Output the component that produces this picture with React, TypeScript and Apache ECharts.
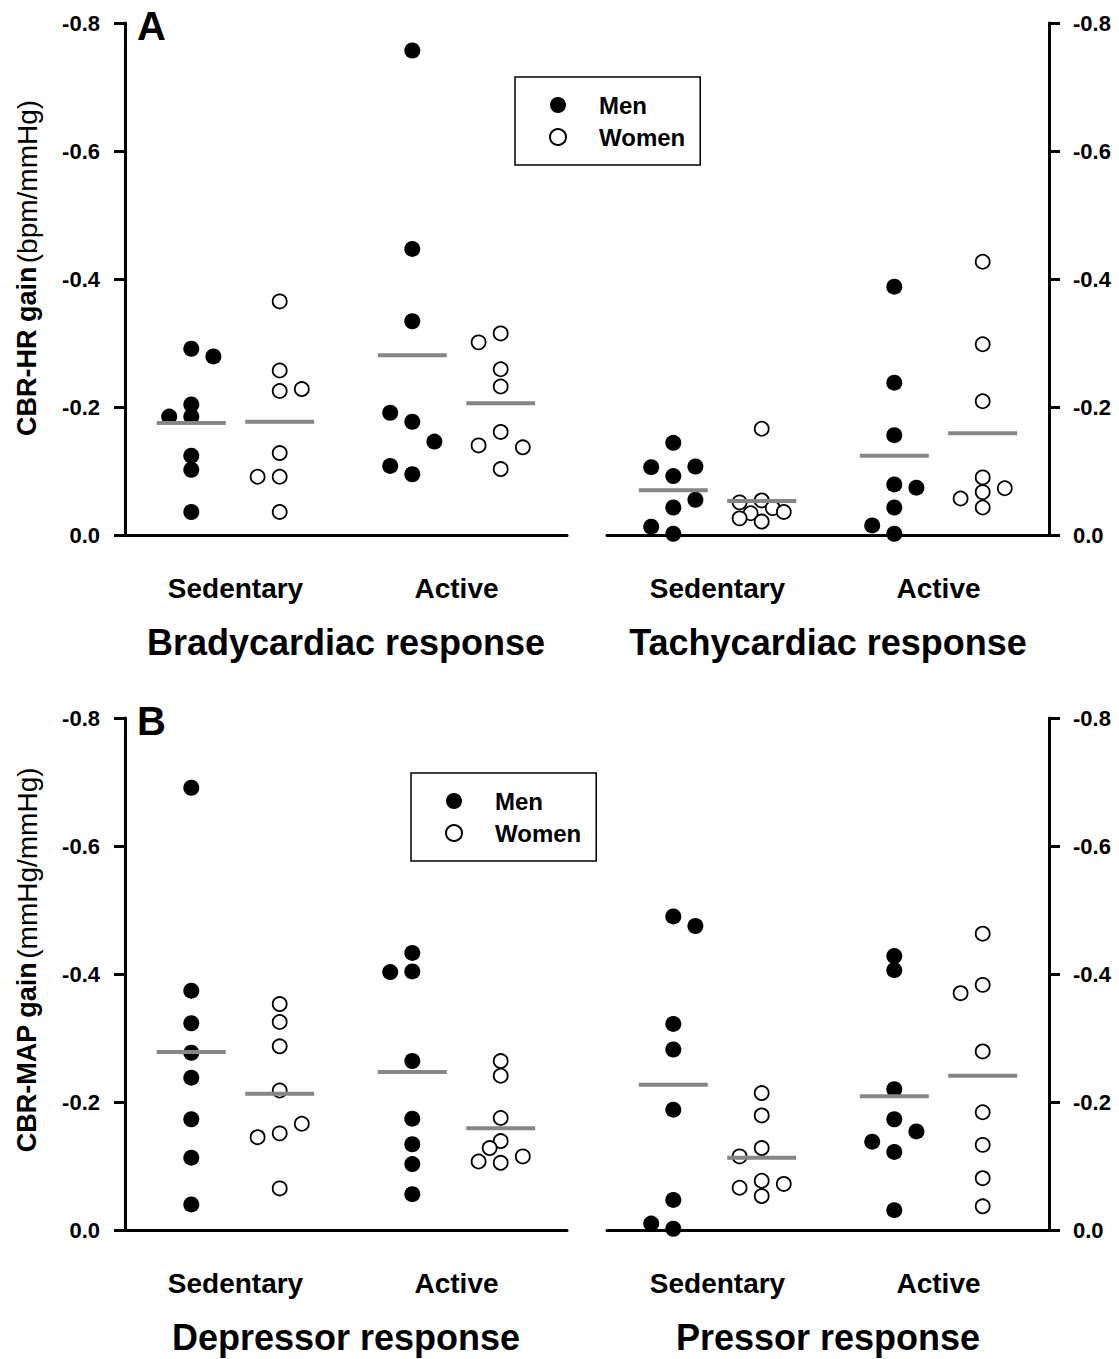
import React, { useEffect, useRef } from "react";
import * as echarts from "echarts";

// ---------- text ----------
const groupLabels = ["Sedentary", "Active"];
const panelTitles = [
  "Bradycardiac response",
  "Tachycardiac response",
  "Depressor response",
  "Pressor response",
];
const panelLetters = ["A", "B"];
const yTitleBold = ["CBR-HR gain", "CBR-MAP gain"];
const yTitleUnit = ["(bpm/mmHg)", "(mmHg/mmHg)"];
const seriesNames = ["Men", "Women"];
const yTicks = [-0.8, -0.6, -0.4, -0.2, 0];

// group centres on the x value axis: sedentary men, sedentary women, active men, active women
const groupX = [1, 2, 3.5, 4.5];
const labelX = [1.5, 4];

// ---------- Panel A, bradycardiac ----------
const bradySedMen = [-0.291, -0.279, -0.204, -0.185, -0.185, -0.124, -0.102, -0.036];
const bradySedMenJit = [0, 1, 0, -1, 0, 0, 0, 0];
const bradySedWomen = [-0.365, -0.257, -0.225, -0.228, -0.128, -0.091, -0.091, -0.036];
const bradySedWomenJit = [0, 0, 0, 1, 0, -1, 0, 0];
const bradyActMen = [-0.757, -0.447, -0.334, -0.191, -0.177, -0.146, -0.108, -0.095];
const bradyActMenJit = [0, 0, 0, -1, 0, 1, -1, 0];
const bradyActWomen = [-0.315, -0.301, -0.259, -0.232, -0.161, -0.14, -0.137, -0.103];
const bradyActWomenJit = [0, -1, 0, 0, 0, -1, 1, 0];
const bradyMeans = [-0.175, -0.177, -0.281, -0.206];

// ---------- Panel A, tachycardiac ----------
const tachySedMen = [-0.144, -0.106, -0.107, -0.092, -0.055, -0.043, -0.013, -0.002];
const tachySedMenJit = [0, -1, 1, 0, 1, 0, -1, 0];
const tachySedWomen = [-0.166, -0.054, -0.051, -0.042, -0.036, -0.034, -0.026, -0.021];
const tachySedWomenJit = [0, 0, -1, 0.5, 1, -0.5, -1, 0];
const tachyActMen = [-0.388, -0.238, -0.156, -0.079, -0.074, -0.043, -0.015, -0.002];
const tachyActMenJit = [0, 0, 0, 0, 1, 0, -1, 0];
const tachyActWomen = [-0.427, -0.298, -0.209, -0.09, -0.073, -0.067, -0.057, -0.043];
const tachyActWomenJit = [0, 0, 0, 0, 1, 0, -1, 0];
const tachyMeans = [-0.07, -0.053, -0.124, -0.159];

// ---------- Panel B, depressor ----------
const deprSedMen = [-0.691, -0.374, -0.323, -0.277, -0.238, -0.173, -0.113, -0.04];
const deprSedMenJit = [0, 0, 0, 0, 0, 0, 0, 0];
const deprSedWomen = [-0.353, -0.325, -0.287, -0.218, -0.166, -0.151, -0.145, -0.065];
const deprSedWomenJit = [0, 0, 0, 0, 1, 0, -1, 0];
const deprActMen = [-0.433, -0.403, -0.404, -0.264, -0.174, -0.134, -0.103, -0.056];
const deprActMenJit = [0, -1, 0, 0, 0, 0, 0, 0];
const deprActWomen = [-0.264, -0.241, -0.175, -0.139, -0.128, -0.115, -0.107, -0.105];
const deprActWomenJit = [0, 0, 0, 0, -0.5, 1, -1, 0];
const deprMeans = [-0.278, -0.213, -0.247, -0.159];

// ---------- Panel B, pressor ----------
const pressSedMen = [-0.49, -0.475, -0.322, -0.282, -0.188, -0.047, -0.01, -0.002];
const pressSedMenJit = [0, 1, 0, 0, 0, 0, -1, 0];
const pressSedWomen = [-0.214, -0.179, -0.128, -0.115, -0.077, -0.072, -0.066, -0.053];
const pressSedWomenJit = [0, 0, 0, -1, 0, 1, -1, 0];
const pressActMen = [-0.428, -0.406, -0.22, -0.173, -0.154, -0.138, -0.122, -0.031];
const pressActMenJit = [0, 0, 0, 0, 1, -1, 0, 0];
const pressActWomen = [-0.463, -0.383, -0.37, -0.279, -0.184, -0.133, -0.081, -0.037];
const pressActWomenJit = [0, 0, -1, 0, 0, 0, 0, 0];
const pressMeans = [-0.227, -0.113, -0.209, -0.241];

const FONT = "'Liberation Sans', Arial, sans-serif";
const JIT_STEP = 0.25;
const MEAN_WIDTH = 0.78;

type Group = [number[], number[]];
const subpanels: { groups: Group[]; means: number[] }[] = [
  {
    groups: [
      [bradySedMen, bradySedMenJit],
      [bradySedWomen, bradySedWomenJit],
      [bradyActMen, bradyActMenJit],
      [bradyActWomen, bradyActWomenJit],
    ],
    means: bradyMeans,
  },
  {
    groups: [
      [tachySedMen, tachySedMenJit],
      [tachySedWomen, tachySedWomenJit],
      [tachyActMen, tachyActMenJit],
      [tachyActWomen, tachyActWomenJit],
    ],
    means: tachyMeans,
  },
  {
    groups: [
      [deprSedMen, deprSedMenJit],
      [deprSedWomen, deprSedWomenJit],
      [deprActMen, deprActMenJit],
      [deprActWomen, deprActWomenJit],
    ],
    means: deprMeans,
  },
  {
    groups: [
      [pressSedMen, pressSedMenJit],
      [pressSedWomen, pressSedWomenJit],
      [pressActMen, pressActMenJit],
      [pressActWomen, pressActWomenJit],
    ],
    means: pressMeans,
  },
];

function points(gi: number, g: Group) {
  return g[0].map((v, k) => [groupX[gi] + g[1][k] * JIT_STEP, v]);
}

function buildOption() {
  const grids = [
    { left: 125, top: 23, width: 442, height: 512 },
    { left: 607, top: 23, width: 442, height: 512 },
    { left: 125, top: 718, width: 442, height: 512 },
    { left: 607, top: 718, width: 442, height: 512 },
  ];
  const fmt = (v: number) => (Math.abs(v) < 1e-9 ? "0.0" : v.toFixed(1));

  const xAxis = grids.map((_, i) => ({
    type: "value",
    gridIndex: i,
    min: 0.25,
    max: 5.25,
    axisLine: { show: true, onZero: false, lineStyle: { color: "#000", width: 3 } },
    axisTick: { show: false },
    splitLine: { show: false },
    axisLabel: {
      show: true,
      customValues: labelX,
      formatter: (v: number) => groupLabels[labelX.indexOf(v)] ?? "",
      fontSize: 28,
      fontWeight: "bold",
      fontFamily: FONT,
      color: "#000",
      margin: 39,
    },
    name: panelTitles[i],
    nameLocation: "middle",
    nameGap: 89,
    nameTextStyle: { fontSize: 36, fontWeight: "bold", fontFamily: FONT, color: "#000" },
  }));

  const yAxis = grids.map((_, i) => {
    const isLeft = i % 2 === 0;
    const p = Math.floor(i / 2);
    return {
      type: "value",
      gridIndex: i,
      position: isLeft ? "left" : "right",
      min: yTicks[0],
      max: yTicks[yTicks.length - 1],
      interval: 0.2,
      inverse: true,
      axisLine: { show: true, onZero: false, lineStyle: { color: "#000", width: 3 } },
      axisTick: { show: true, inside: false, length: 11, lineStyle: { color: "#000", width: 3 } },
      splitLine: { show: false },
      axisLabel: {
        formatter: fmt,
        fontSize: 22,
        fontWeight: "bold",
        fontFamily: FONT,
        color: "#000",
        margin: isLeft ? 25 : 24,
      },
      name: isLeft ? `{b|${yTitleBold[p]}} {r|${yTitleUnit[p]}}` : "",
      nameLocation: "middle",
      nameGap: 84,
      nameTextStyle: {
        padding: [0, 0, 0, p === 0 ? 22 : 28],
        rich: {
          b: { fontSize: 27, fontWeight: "bold", fontFamily: FONT, color: "#000" },
          r: { fontSize: 28, fontWeight: "normal", fontFamily: FONT, color: "#000" },
        },
      },
    };
  });

  const series: any[] = [];
  subpanels.forEach((sp, i) => {
    series.push({
      type: "scatter",
      name: seriesNames[0],
      xAxisIndex: i,
      yAxisIndex: i,
      symbol: "circle",
      symbolSize: 16,
      itemStyle: { color: "#000", opacity: 1 },
      data: [...points(0, sp.groups[0]), ...points(2, sp.groups[2])],
      z: 2,
    });
    series.push({
      type: "scatter",
      name: seriesNames[1],
      xAxisIndex: i,
      yAxisIndex: i,
      symbol: "circle",
      symbolSize: 14,
      itemStyle: { color: "#fff", borderColor: "#000", borderWidth: 1.8, opacity: 1 },
      data: [...points(1, sp.groups[1]), ...points(3, sp.groups[3])],
      z: 2,
    });
    series.push({
      type: "custom",
      xAxisIndex: i,
      yAxisIndex: i,
      silent: true,
      z: 3,
      encode: { x: 0, y: 1 },
      data: groupX.map((x, k) => [x, sp.means[k]]),
      renderItem: (_p: any, api: any) => {
        const c = api.coord([api.value(0), api.value(1)]);
        const w = api.size([MEAN_WIDTH, 0])[0];
        return {
          type: "line",
          shape: { x1: c[0] - w / 2, y1: c[1], x2: c[0] + w / 2, y2: c[1] },
          style: { stroke: "#868686", lineWidth: 4 },
        };
      },
    });
  });

  const legendBase = {
    data: seriesNames,
    orient: "vertical",
    padding: [16, 15, 16, 34],
    itemWidth: 16,
    itemHeight: 16,
    itemGap: 8,
    borderColor: "#000",
    borderWidth: 1.5,
    backgroundColor: "#fff",
    selectedMode: false,
    icon: "circle",
    textStyle: {
      fontSize: 24,
      fontWeight: "bold",
      fontFamily: FONT,
      color: "#000",
      lineHeight: 24,
      padding: [0, 0, 0, 28],
    },
  };

  return {
    animation: false,
    backgroundColor: "#fff",
    grid: grids,
    xAxis,
    yAxis,
    series,
    legend: [
      { ...legendBase, left: 515, top: 77 },
      { ...legendBase, left: 411, top: 773 },
    ],
    graphic: [
      {
        type: "text",
        x: 137,
        y: 26,
        style: { text: panelLetters[0], fontSize: 40, fontWeight: "bold", fontFamily: FONT, fill: "#000", align: "left", verticalAlign: "middle" },
      },
      {
        type: "text",
        x: 137,
        y: 721,
        style: { text: panelLetters[1], fontSize: 40, fontWeight: "bold", fontFamily: FONT, fill: "#000", align: "left", verticalAlign: "middle" },
      },
    ],
  };
}

export default function App() {
  const ref = useRef<HTMLDivElement>(null);
  useEffect(() => {
    if (!ref.current) return;
    const chart = echarts.init(ref.current, undefined, { renderer: "svg" });
    chart.setOption(buildOption() as any);
    return () => chart.dispose();
  }, []);
  return (
    <div
      ref={ref}
      style={{ position: "absolute", left: 0, top: 0, width: 1119, height: 1359, background: "#fff" }}
    />
  );
}
